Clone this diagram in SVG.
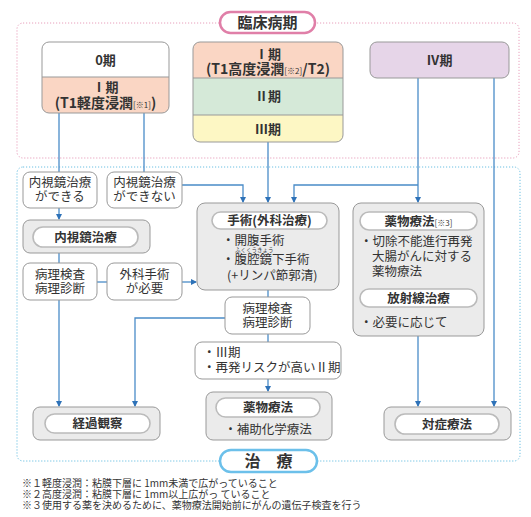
<svg xmlns="http://www.w3.org/2000/svg" width="531" height="517" viewBox="0 0 531 517">
<style>
text{font-family:"Noto Sans CJK JP","Noto Sans",sans-serif;fill:#333;}
.b{font-weight:bold;}
.m{text-anchor:middle;}
.f12{font-size:12.5px;}
.f13{font-size:13px;}
.f14{font-size:14px;}
.sm{font-size:8px;font-weight:normal;}
.note{font-size:10px;}
.wbox{fill:#fff;stroke:#999;stroke-width:1;}
.gbox{fill:#ebebeb;stroke:#999;stroke-width:1;}
.pill{fill:#fff;stroke:#bbb;stroke-width:1.6;}
.con path{fill:none;stroke:#4a8cc8;stroke-width:1.3;}
.arr{marker-end:url(#ah);}
</style>
<defs>
<marker id="ah" viewBox="0 0 6 6" refX="5" refY="3" markerWidth="6" markerHeight="6" markerUnits="userSpaceOnUse" orient="auto">
<path d="M0,0 L6,3 L0,6 z" fill="#2e72b8"/>
</marker>
<clipPath id="c0"><rect x="42" y="42" width="127" height="71" rx="7"/></clipPath>
<clipPath id="c1"><rect x="193" y="42" width="150" height="100" rx="7"/></clipPath>
</defs>

<!-- frames -->
<g id="frame-stage">
<rect x="17" y="23" width="502" height="135" rx="6" fill="none" stroke="#e8a0bc" stroke-width="1" stroke-dasharray="1.2 1.8"/>
</g>
<g id="frame-treat">
<rect x="17" y="167" width="503" height="294" rx="6" fill="none" stroke="#6cc0e2" stroke-width="1" stroke-dasharray="1.2 1.8"/>
</g>

<!-- connectors -->
<g id="connectors" class="con">
<path d="M59 113 V172"/>
<path d="M59 208 V219" class="arr"/>
<path d="M144 113 V172"/>
<path d="M182 185 H243 V202" class="arr"/>
<path d="M268 142 V202" class="arr"/>
<path d="M418 78 V202" class="arr"/>
<path d="M418 185 H294 V202" class="arr"/>
<path d="M494 78 V406" class="arr"/>
<path d="M59 253 V263"/>
<path d="M97 282 H107"/>
<path d="M182 282 H196" class="arr"/>
<path d="M59 300 V406" class="arr"/>
<path d="M268 290 V297"/>
<path d="M225 318 H135 V406" class="arr"/>
<path d="M268 334 V342"/>
<path d="M268 379 V391" class="arr"/>
<path d="M418 336 V406" class="arr"/>
</g>

<g id="label-stage">
<rect x="220" y="12" width="95" height="21" rx="10.5" fill="#fff" stroke="#e07fa8" stroke-width="2.5"/>
<text x="267.5" y="28" class="m b" font-size="15">臨床病期</text>
</g>
<g id="label-treat">
<rect x="220" y="450" width="97" height="22" rx="11" fill="#fff" stroke="#6cc0ea" stroke-width="2.5"/>
<text x="268.5" y="467" class="m b" font-size="16">治　療</text>
</g>

<!-- stage nodes -->
<g id="node-stage0-1">
<g clip-path="url(#c0)">
<rect x="42" y="42" width="127" height="35" fill="#fff"/>
<rect x="42" y="77" width="127" height="36" fill="#fad6c4"/>
</g>
<line x1="42" y1="77" x2="169" y2="77" stroke="#999" stroke-width="1"/>
<rect x="42" y="42" width="127" height="71" rx="7" fill="none" stroke="#999" stroke-width="1"/>
<text x="105.5" y="65" class="m b f13">0期</text>
<text x="105.5" y="92" class="m b f13">Ⅰ期</text>
<text x="105.5" y="108" class="m b f14">(T1軽度浸潤<tspan class="sm">[※1]</tspan>)</text>
</g>

<g id="node-stage1-3">
<g clip-path="url(#c1)">
<rect x="193" y="42" width="150" height="36" fill="#fad6c4"/>
<rect x="193" y="78" width="150" height="37" fill="#d5e9d8"/>
<rect x="193" y="115" width="150" height="27" fill="#fdf7c4"/>
</g>
<line x1="193" y1="78" x2="343" y2="78" stroke="#999" stroke-width="1"/>
<line x1="193" y1="115" x2="343" y2="115" stroke="#999" stroke-width="1"/>
<rect x="193" y="42" width="150" height="100" rx="7" fill="none" stroke="#999" stroke-width="1"/>
<text x="268" y="59" class="m b f13">Ⅰ期</text>
<text x="268" y="74" class="m b f14">(T1高度浸潤<tspan class="sm">[※2]</tspan>/T2)</text>
<text x="268" y="101" class="m b f13">Ⅱ期</text>
<text x="268" y="134" class="m b f13">Ⅲ期</text>
</g>

<g id="node-stage4">
<rect x="370" y="42" width="139" height="36" rx="7" fill="#e6d5e8" stroke="#999" stroke-width="1"/>
<text x="439.5" y="65" class="m b f13">Ⅳ期</text>
</g>

<!-- treatment nodes -->
<g id="node-endo-ok">
<rect x="23" y="172" width="74" height="36" rx="7" class="wbox"/>
<text x="60" y="187" class="m f12">内視鏡治療</text>
<text x="60" y="201" class="m f12">ができる</text>
</g>
<g id="node-endo-ng">
<rect x="107" y="172" width="75" height="36" rx="7" class="wbox"/>
<text x="144.5" y="187" class="m f12">内視鏡治療</text>
<text x="144.5" y="201" class="m f12">ができない</text>
</g>
<g id="node-endo">
<rect x="23" y="220" width="127" height="33" rx="7" class="gbox"/>
<rect x="33" y="227" width="105" height="20" rx="10" class="pill"/>
<text x="85.5" y="241.5" class="m b f12">内視鏡治療</text>
</g>
<g id="node-patho1">
<rect x="23" y="263" width="74" height="37" rx="7" class="wbox"/>
<text x="60" y="279" class="m f12">病理検査</text>
<text x="60" y="293" class="m f12">病理診断</text>
</g>
<g id="node-surgery-need">
<rect x="107" y="263" width="75" height="37" rx="7" class="wbox"/>
<text x="144.5" y="279" class="m f12">外科手術</text>
<text x="144.5" y="293" class="m f12">が必要</text>
</g>
<g id="node-surgery">
<rect x="197" y="203" width="142" height="87" rx="8" class="gbox"/>
<rect x="212" y="212" width="115" height="17" rx="8.5" class="pill"/>
<text x="269.5" y="225" class="m b f12">手術(外科治療)</text>
<text x="222" y="245" class="f12">・開腹手術</text>
<text x="235" y="252" font-size="5.5">ふくくうきょう</text>
<text x="222" y="264" class="f12">・腹腔鏡下手術</text>
<text x="227" y="280" class="f12">(+リンパ節郭清)</text>
</g>
<g id="node-chemo-right">
<rect x="353" y="203" width="131" height="133" rx="8" class="gbox"/>
<rect x="360" y="212" width="117" height="18" rx="9" class="pill"/>
<text x="418.5" y="225.5" class="m b f12">薬物療法<tspan class="sm">[※3]</tspan></text>
<text x="360" y="246" class="f12">・切除不能進行再発</text>
<text x="372" y="261" class="f12">大腸がんに対する</text>
<text x="372" y="276" class="f12">薬物療法</text>
<rect x="360" y="289" width="117" height="18" rx="9" class="pill"/>
<text x="418.5" y="302.5" class="m b f12">放射線治療</text>
<text x="360" y="327" class="f12">・必要に応じて</text>
</g>
<g id="node-patho2">
<rect x="225" y="297" width="85" height="37" rx="7" class="wbox"/>
<text x="267.5" y="313" class="m f12">病理検査</text>
<text x="267.5" y="327" class="m f12">病理診断</text>
</g>
<g id="node-stage3risk">
<rect x="195" y="342" width="146" height="37" rx="7" class="wbox"/>
<text x="203" y="357" class="f12">・Ⅲ期</text>
<text x="203" y="372" class="f12">・再発リスクが高いⅡ期</text>
</g>
<g id="node-adjuvant">
<rect x="206" y="392" width="126" height="48" rx="7" class="gbox"/>
<rect x="216" y="398" width="104" height="19" rx="9.5" class="pill"/>
<text x="268" y="412" class="m b f12">薬物療法</text>
<text x="268" y="434" class="m f12">・補助化学療法</text>
</g>
<g id="node-observe">
<rect x="33" y="407" width="127" height="33" rx="7" class="gbox"/>
<rect x="45" y="414" width="105" height="19" rx="9.5" class="pill"/>
<text x="97.5" y="428" class="m b f12">経過観察</text>
</g>
<g id="node-palliative">
<rect x="384" y="407" width="127" height="33" rx="7" class="gbox"/>
<rect x="395" y="414" width="104" height="20" rx="10" class="pill"/>
<text x="447" y="428.5" class="m b f12">対症療法</text>
</g>

<g id="notes">
<text x="22" y="487" class="note">※１軽度浸潤：粘膜下層に 1mm未満で広がっていること</text>
<text x="22" y="498" class="note">※２高度浸潤：粘膜下層に 1mm以上広がっ ていること</text>
<text x="22" y="509" class="note">※３使用する薬を決めるために、薬物療法開始前にがんの遺伝子検査を行う</text>
</g>
</svg>
